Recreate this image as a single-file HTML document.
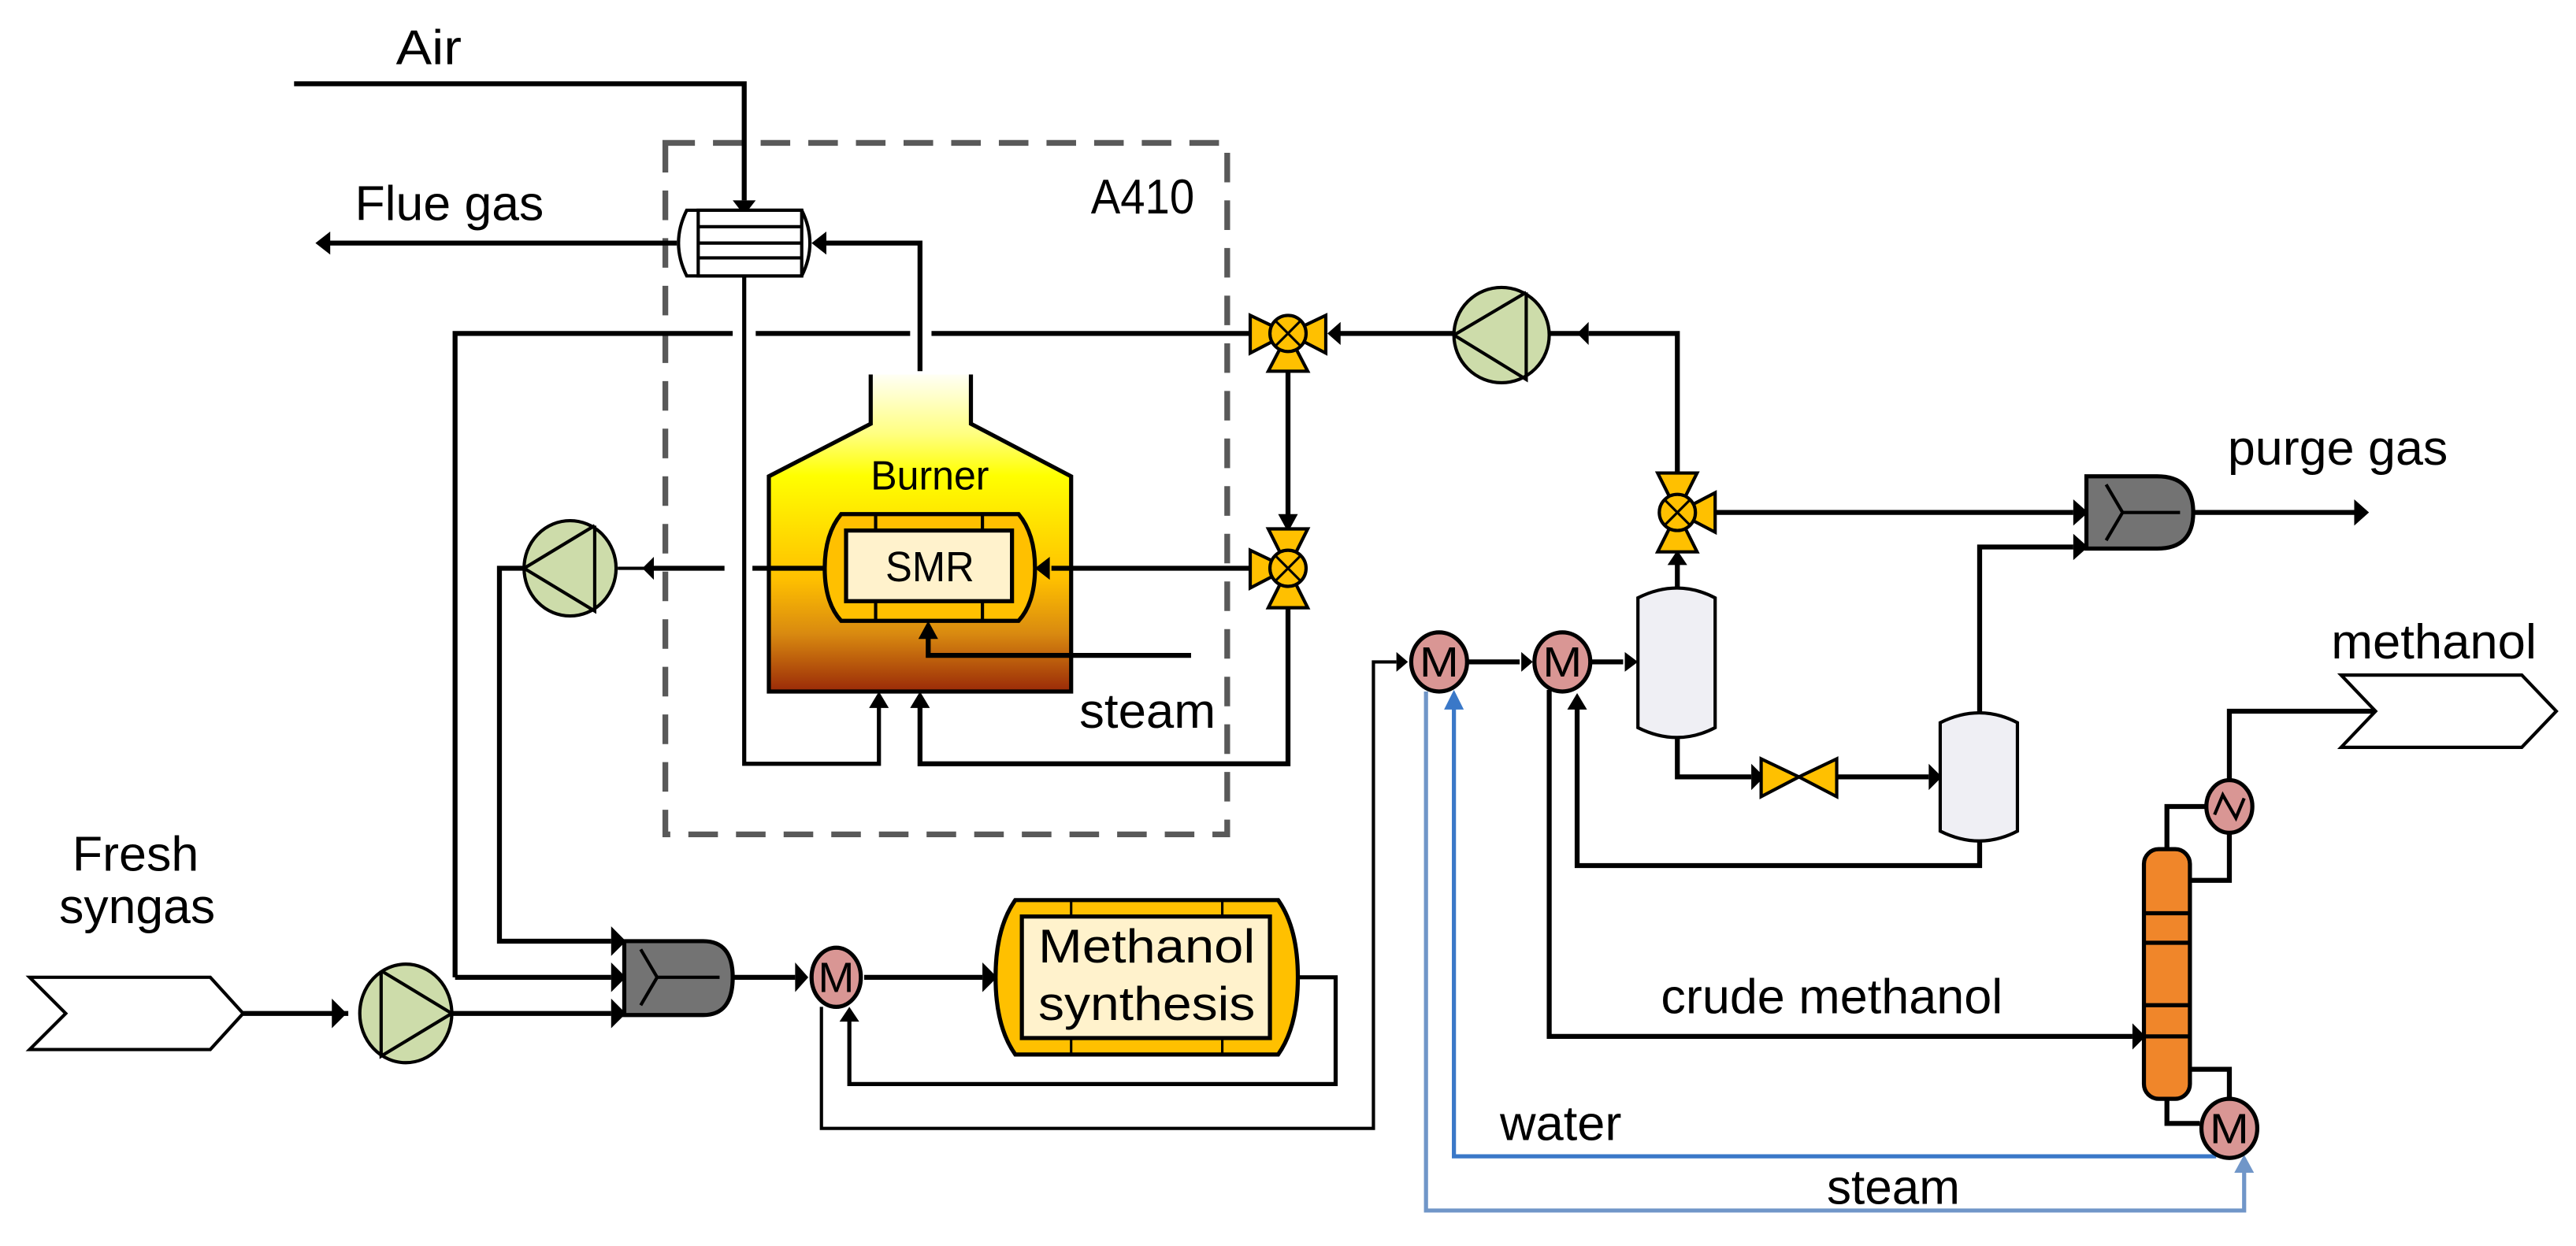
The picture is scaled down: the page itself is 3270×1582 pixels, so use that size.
<!DOCTYPE html>
<html><head><meta charset="utf-8"><style>
html,body{margin:0;padding:0;background:#fff;}
svg{display:block;}
text{font-family:"Liberation Sans",sans-serif;fill:#000;}
</style></head><body>
<svg width="3270" height="1582" viewBox="0 0 1568 758.6" preserveAspectRatio="none" xmlns="http://www.w3.org/2000/svg">
<defs>
<linearGradient id="burn" x1="0" y1="225" x2="0" y2="421" gradientUnits="userSpaceOnUse">
<stop offset="0" stop-color="#ffffff"/>
<stop offset="0.2" stop-color="#ffff80"/>
<stop offset="0.33" stop-color="#ffff00"/>
<stop offset="0.65" stop-color="#ffc000"/>
<stop offset="0.82" stop-color="#d98a10"/>
<stop offset="1" stop-color="#9a2a08"/>
</linearGradient>
</defs>

<rect x="405" y="87" width="342" height="421" fill="none" stroke="#595959" stroke-width="3.5" stroke-dasharray="18,11"/>

<path d="M530,225 L530,258 L468,290 L468,421 L652,421 L652,290 L591,258 L591,225" fill="url(#burn)" stroke="none"/>
<path d="M530,225 L530,258 L468,290 L468,421 L652,421 L652,290 L591,258 L591,225" fill="none" stroke="#000" stroke-width="2.5"/>
<rect x="527" y="222" width="67" height="6" fill="#fff"/>
<text x="566" y="298" font-size="25" text-anchor="middle" textLength="72" lengthAdjust="spacingAndGlyphs">Burner</text>

<g fill="none" stroke="#000" stroke-width="3">
<polyline points="179,51 453,51 453,122"/>
<line x1="412" y1="148" x2="200" y2="148"/>
<polyline points="560,226 560,148 502,148"/>
<polyline points="453,168 453,465 535,465 535,430" stroke-width="2.5"/>
<polyline points="277,595 277,203 446,203"/>
<line x1="460" y1="203" x2="554" y2="203"/>
<line x1="567" y1="203" x2="761" y2="203"/>
<line x1="784" y1="226" x2="784" y2="322"/>
<polyline points="784,360 784,465 560,465 560,430"/>
<line x1="761" y1="346" x2="640" y2="346"/>
<line x1="502" y1="346" x2="458" y2="346"/>
<line x1="441" y1="346" x2="395" y2="346"/>
<line x1="395" y1="346" x2="376" y2="346" stroke-width="2"/>
<polyline points="725,399 565,399 565,388"/>
<polyline points="319,346 304,346 304,573 372,573"/>
<polyline points="277,595 372,595" />
<line x1="148" y1="617" x2="212" y2="617"/>
<line x1="275" y1="617" x2="372" y2="617"/>
<line x1="446" y1="595" x2="484" y2="595"/>
<line x1="526" y1="595" x2="598" y2="595"/>
<polyline points="790,595 813,595 813,660 517,660 517,620" stroke-width="2.5"/>
<polyline points="500,613 500,687 836,687 836,403 850,403" stroke-width="2"/>
<line x1="894" y1="403" x2="925" y2="403"/>
<line x1="969" y1="403" x2="988" y2="403"/>
<line x1="885" y1="203" x2="815" y2="203"/>
<line x1="943" y1="203" x2="962" y2="203"/>
<polyline points="1021,300 1021,203 967,203"/>
<line x1="1043" y1="312" x2="1262" y2="312"/>
<polyline points="1205,434 1205,333 1262,333"/>
<line x1="1335" y1="312" x2="1434" y2="312"/>
<line x1="1021" y1="358" x2="1021" y2="342"/>
<polyline points="1021,449 1021,473 1066,473"/>
<line x1="1118" y1="473" x2="1174" y2="473"/>
<polyline points="1205,512 1205,527 960,527 960,430"/>
<polyline points="943,420 943,631 1298,631"/>
<polyline points="1319,517 1319,491 1343,491"/>
<polyline points="1333,536 1357,536 1357,505"/>
<polyline points="1357,477 1357,433 1446,433"/>
<polyline points="1319,669 1319,684 1339,684"/>
<polyline points="1333,651 1357,651 1357,669"/>
</g>
<polyline points="1349,704 885,704 885,430" fill="none" stroke="#3a78c8" stroke-width="2.5"/>
<polyline points="868,421 868,737 1366,737 1366,713" fill="none" stroke="#7096c8" stroke-width="2.5"/>
<polygon points="879,432 891,432 885,420" fill="#3a78c8"/>
<polygon points="1360,714 1372,714 1366,703" fill="#7096c8"/>

<g fill="#000">
<polygon points="446,122 460,122 453,131"/>
<polygon points="192,148 201,141 201,155"/>
<polygon points="494,148 503,141 503,155"/>
<polygon points="529,431 541,431 535,421"/>
<polygon points="554,431 566,431 560,421"/>
<polygon points="778,313 790,313 784,324"/>
<polygon points="630,346 639,339 639,353"/>
<polygon points="391,346 398,339 398,353"/>
<polygon points="559,389 571,389 565,378"/>
<polygon points="381,573 372,564 372,582"/>
<polygon points="381,595 372,586 372,604"/>
<polygon points="381,617 372,608 372,626"/>
<polygon points="211,617 202,608 202,626"/>
<polygon points="492,595 484,586 484,604"/>
<polygon points="607,595 598,586 598,604"/>
<polygon points="511,622 523,622 517,613"/>
<polygon points="857,403 850,397 850,409"/>
<polygon points="933,403 926,397 926,409"/>
<polygon points="997,403 989,397 989,409"/>
<polygon points="808,203 816,196 816,210"/>
<polygon points="960,203 967,196 967,210"/>
<polygon points="1271,312 1262,304 1262,320"/>
<polygon points="1271,333 1262,325 1262,341"/>
<polygon points="1442,312 1433,304 1433,320"/>
<polygon points="1015,344 1027,344 1021,335"/>
<polygon points="1074,473 1066,465 1066,481"/>
<polygon points="1182,473 1174,465 1174,481"/>
<polygon points="954,432 966,432 960,422"/>
<polygon points="1306,631 1298,623 1298,639"/>
</g>

<path d="M418,128 L488,128 Q498,148 488,168 L418,168 Q408,148 418,128 Z" fill="#fff" stroke="#000" stroke-width="2"/>
<rect x="425" y="128" width="63" height="40" fill="#fff" stroke="#000" stroke-width="2"/>
<g stroke="#000" stroke-width="2"><line x1="425" y1="138" x2="488" y2="138"/><line x1="425" y1="148" x2="488" y2="148"/><line x1="425" y1="157" x2="488" y2="157"/></g>

<path d="M512,313 L620,313 Q630,325 630,346 Q630,367 620,378 L512,378 Q502,367 502,346 Q502,325 512,313 Z" fill="#ffc000" stroke="#000" stroke-width="2.5"/>
<rect x="515" y="323" width="101" height="43" fill="#fff2cc" stroke="#000" stroke-width="2.5"/>
<g stroke="#000" stroke-width="2"><line x1="533" y1="313" x2="533" y2="323"/><line x1="598" y1="313" x2="598" y2="323"/><line x1="533" y1="366" x2="533" y2="378"/><line x1="598" y1="366" x2="598" y2="378"/></g>
<text x="566" y="354" font-size="26" text-anchor="middle" textLength="54" lengthAdjust="spacingAndGlyphs">SMR</text>

<g stroke="#000" stroke-width="2" fill="#cddcaa">
<ellipse cx="347" cy="346" rx="28" ry="29"/>
<ellipse cx="914" cy="204" rx="29" ry="29"/>
<ellipse cx="247" cy="617" rx="28" ry="30"/>
</g>
<g stroke="#000" stroke-width="2" fill="none">
<polyline points="362,320 319,346 362,372 362,320"/>
<polyline points="929,178 885,204 929,231 929,178"/>
<polyline points="232,591 275,617 232,643 232,591"/>
</g>

<g fill="#ffc000" stroke="#000" stroke-width="2">
<polygon points="761,192 784,203 761,215"/>
<polygon points="807,192 784,203 807,215"/>
<polygon points="784,203 772,226 796,226"/>
<circle cx="784" cy="203" r="11"/>
<polygon points="772,322 796,322 784,346"/>
<polygon points="772,370 796,370 784,346"/>
<polygon points="761,335 784,346 761,358"/>
<circle cx="784" cy="346" r="11"/>
<polygon points="1009,288 1033,288 1021,312"/>
<polygon points="1009,336 1033,336 1021,312"/>
<polygon points="1044,300 1021,312 1044,324"/>
<circle cx="1021" cy="312" r="11"/>
<polygon points="1072,462 1095,473 1072,485"/>
<polygon points="1118,462 1095,473 1118,485"/>
</g>
<g stroke="#000" stroke-width="1.5">
<line x1="776" y1="195" x2="792" y2="211"/><line x1="792" y1="195" x2="776" y2="211"/>
<line x1="776" y1="338" x2="792" y2="354"/><line x1="792" y1="338" x2="776" y2="354"/>
<line x1="1013" y1="304" x2="1029" y2="320"/><line x1="1029" y1="304" x2="1013" y2="320"/>
</g>

<g stroke="#000" stroke-width="2.5">
<path d="M380,573 L428,573 Q446,573 446,595 Q446,618 428,618 L380,618 Z" fill="#737373"/>
<path d="M1270,290 L1313,290 Q1335,290 1335,312 Q1335,334 1313,334 L1270,334 Z" fill="#737373"/>
</g>
<g stroke="#000" stroke-width="2" fill="none">
<polyline points="390,578 400,595 390,612"/><line x1="400" y1="595" x2="438" y2="595"/>
<polyline points="1282,295 1292,312 1282,329"/><line x1="1292" y1="312" x2="1327" y2="312"/>
</g>

<g fill="#d99694" stroke="#000" stroke-width="2.5">
<ellipse cx="509" cy="595" rx="15" ry="18"/>
<ellipse cx="876" cy="403" rx="17" ry="18"/>
<ellipse cx="951" cy="403" rx="17" ry="18"/>
<ellipse cx="1357" cy="687" rx="17" ry="18"/>
<ellipse cx="1357" cy="491" rx="14" ry="16"/>
</g>
<g font-size="26" text-anchor="middle">
<text x="509" y="604" textLength="22" lengthAdjust="spacingAndGlyphs">M</text>
<text x="876" y="412" textLength="24" lengthAdjust="spacingAndGlyphs">M</text>
<text x="951" y="412" textLength="24" lengthAdjust="spacingAndGlyphs">M</text>
<text x="1357" y="696" textLength="24" lengthAdjust="spacingAndGlyphs">M</text>
</g>
<polyline points="1348,496 1353,484 1361,498 1366,486" fill="none" stroke="#000" stroke-width="2"/>

<path d="M618,548 L778,548 Q790,565 790,595 Q790,625 778,642 L618,642 Q606,625 606,595 Q606,565 618,548 Z" fill="#ffc000" stroke="#000" stroke-width="2.5"/>
<rect x="622" y="558" width="151" height="74" fill="#fff2cc" stroke="#000" stroke-width="2.5"/>
<g stroke="#000" stroke-width="1.5"><line x1="652" y1="548" x2="652" y2="558"/><line x1="744" y1="548" x2="744" y2="558"/><line x1="652" y1="632" x2="652" y2="642"/><line x1="744" y1="632" x2="744" y2="642"/></g>
<text x="698" y="586" font-size="29" text-anchor="middle" textLength="132" lengthAdjust="spacingAndGlyphs">Methanol</text>
<text x="698" y="621" font-size="29" text-anchor="middle" textLength="132" lengthAdjust="spacingAndGlyphs">synthesis</text>

<g fill="#efeff4" stroke="#000" stroke-width="2">
<path d="M997,364 Q1021,352 1044,364 L1044,443 Q1021,455 997,443 Z"/>
<path d="M1181,440 Q1205,428 1228,440 L1228,506 Q1205,518 1181,506 Z"/>
</g>

<rect x="1305" y="517" width="28" height="152" rx="9" fill="#f0862a" stroke="#000" stroke-width="2.5"/>
<g stroke="#000" stroke-width="2.5"><line x1="1305" y1="556" x2="1333" y2="556"/><line x1="1305" y1="574" x2="1333" y2="574"/><line x1="1305" y1="612" x2="1333" y2="612"/><line x1="1305" y1="631" x2="1333" y2="631"/></g>

<polygon points="18,595 128,595 148,617 128,639 18,639 40,617" fill="#fff" stroke="#000" stroke-width="2"/>
<polygon points="1425,411 1535,411 1556,433 1535,455 1425,455 1446,433" fill="#fff" stroke="#000" stroke-width="2"/>

<g font-size="30">
<text x="241" y="39" textLength="40" lengthAdjust="spacingAndGlyphs">Air</text>
<text x="216" y="134" textLength="115" lengthAdjust="spacingAndGlyphs">Flue gas</text>
<text x="664" y="130" textLength="63" lengthAdjust="spacingAndGlyphs">A410</text>
<text x="657" y="443" textLength="83" lengthAdjust="spacingAndGlyphs">steam</text>
<text x="44" y="530" textLength="77" lengthAdjust="spacingAndGlyphs">Fresh</text>
<text x="36" y="562" textLength="95" lengthAdjust="spacingAndGlyphs">syngas</text>
<text x="1356" y="283" textLength="134" lengthAdjust="spacingAndGlyphs">purge gas</text>
<text x="1419" y="401" textLength="125" lengthAdjust="spacingAndGlyphs">methanol</text>
<text x="1011" y="617" textLength="208" lengthAdjust="spacingAndGlyphs">crude methanol</text>
<text x="913" y="694" textLength="74" lengthAdjust="spacingAndGlyphs">water</text>
<text x="1112" y="733" textLength="81" lengthAdjust="spacingAndGlyphs">steam</text>
</g>
</svg>
</body></html>
